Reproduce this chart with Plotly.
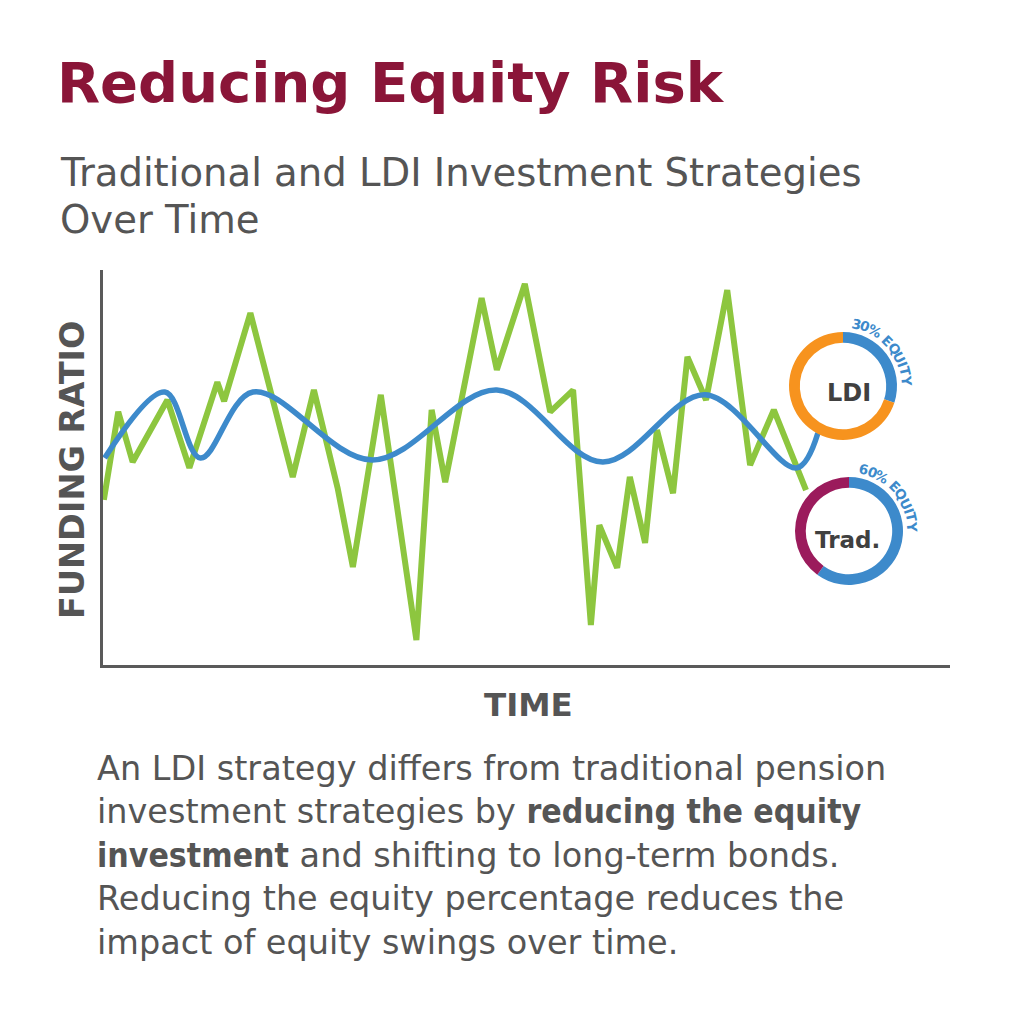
import math
import plotly.graph_objects as go

W, H = 1024, 1015

# ---------------- data ----------------
time_trad = [0.1, 1.8, 3.5, 7.6, 10.2, 13.5, 14.3, 17.4, 22.4, 24.9, 27.7, 29.5, 32.8, 37.0,
             38.8, 40.4, 44.7, 46.5, 49.8, 52.8, 55.5, 57.6, 58.6, 60.7, 62.2, 64.0, 65.4,
             67.3, 69.0, 71.2, 73.7, 76.4, 79.2, 83.0]
funding_trad = [41.8, 64.1, 51.4, 67.1, 49.9, 71.6, 66.8, 89.1, 47.6, 69.6, 44.8, 24.8, 68.4, 6.3,
                64.6, 46.3, 92.9, 74.7, 96.5, 64.1, 69.6, 10.1, 35.4, 24.6, 47.6, 30.9, 59.5,
                43.5, 78.0, 67.1, 94.9, 50.6, 64.6, 44.3]

time_ldi = [0.2, 7.3, 11.5, 17.7, 31.8, 46.5, 59.0, 71.1, 81.9, 84.4]
funding_ldi = [52.4, 69.1, 52.4, 69.1, 51.9, 69.6, 51.4, 68.4, 49.9, 58.7]

ldi_mix_labels = ["Equity", "Bonds"]
ldi_mix_values = [30, 70]
trad_mix_labels = ["Equity", "Other"]
trad_mix_values = [60, 40]

GREEN = "#8DC63F"
BLUE = "#3D8ACB"
ORANGE = "#F7931E"
PURPLE = "#9B1B5C"
TITLE = "#8A1538"
GRAY = "#555555"
FONT = "DejaVu Sans"

fig = go.Figure()

fig.add_trace(go.Scatter(x=time_trad, y=funding_trad, mode="lines",
                         line=dict(color=GREEN, width=6), hoverinfo="skip", showlegend=False))
fig.add_trace(go.Scatter(x=time_ldi, y=funding_ldi, mode="lines",
                         line=dict(color=BLUE, width=5.5, shape="spline", smoothing=1.0),
                         hoverinfo="skip", showlegend=False))


def px(x):
    return x / W


def py(y):
    return 1 - y / H


def donut(values, labels, colors, cx, cy, r):
    fig.add_trace(go.Pie(values=values, labels=labels, hole=0.80, sort=False,
                         direction="clockwise", rotation=0,
                         marker=dict(colors=colors, line=dict(width=0)),
                         textinfo="none", hoverinfo="skip", showlegend=False,
                         domain=dict(x=[px(cx - r), px(cx + r)], y=[py(cy + r), py(cy - r)])))


LDI_C = (843, 386)
TRAD_C = (849, 531)
R = 54
donut(ldi_mix_values, ldi_mix_labels, [BLUE, ORANGE], LDI_C[0], LDI_C[1], R)
donut(trad_mix_values, trad_mix_labels, [BLUE, PURPLE], TRAD_C[0], TRAD_C[1], R)

annotations = []


def text(x, y, s, size, color=GRAY, bold=False, xanchor="left", angle=0, family=FONT):
    annotations.append(dict(x=px(x), y=py(y), xref="paper", yref="paper", text=s,
                            showarrow=False, xanchor=xanchor, yanchor="middle",
                            textangle=angle,
                            font=dict(family=family, size=size, color=color,
                                      weight="bold" if bold else "normal")))


text(55, 83, "Reducing Equity Risk", 56, TITLE, bold=True)
text(58, 172, "Traditional and LDI Investment Strategies", 38.6, GRAY)
text(58, 220, "Over Time", 38.6, GRAY)

text(72, 470, "FUNDING RATIO", 33.5, GRAY, bold=True, xanchor="center", angle=-90)
text(528, 705, "TIME", 32.5, GRAY, bold=True, xanchor="center")


def b(s):
    return ("<span style=\"font-family:'DejaVu Sans Condensed','DejaVu Sans';"
            "font-weight:bold\">" + s + "</span>")


para = [
    "An LDI strategy differs from traditional pension",
    "investment strategies by " + b("reducing the equity"),
    b("investment") + " and shifting to long-term bonds.",
    "Reducing the equity percentage reduces the",
    "impact of equity swings over time.",
]
for i, line in enumerate(para):
    text(95, 768 + i * 43.5, line, 33.5, GRAY)

text(849, LDI_C[1] + 7, "LDI", 24, "#404040", bold=True, xanchor="center")
text(847, TRAD_C[1] + 9, "Trad.", 23, "#404040", bold=True, xanchor="center")

# curved labels along ring (DejaVu Sans Bold advance widths, em)
char_em = {"0": .696, "3": .696, "6": .696, "%": 1.002, " ": .348, "E": .683, "Q": .850,
           "U": .812, "I": .372, "T": .682, "Y": .724}


def arc_label(label, cx, cy, r, a0, a1, size=13.5):
    widths = [char_em[c] for c in label]
    centers = []
    pos = 0.0
    for w in widths:
        centers.append(pos + w / 2)
        pos += w
    span = centers[-1] - centers[0]
    for c, m in zip(label, centers):
        if c == " ":
            continue
        ang = a0 + (a1 - a0) * (m - centers[0]) / span
        a = math.radians(ang)
        x = cx + r * math.sin(a)
        y = cy - r * math.cos(a)
        annotations.append(dict(x=px(x), y=py(y), xref="paper", yref="paper", text=c,
                                showarrow=False, xanchor="center", yanchor="middle",
                                textangle=ang,
                                font=dict(family=FONT, size=size, color=BLUE, weight="bold")))


arc_label("30% EQUITY", LDI_C[0], LDI_C[1], 63.5, 12, 85)
arc_label("60% EQUITY", TRAD_C[0], TRAD_C[1], 63.5, 13, 86)

fig.update_layout(
    width=W, height=H,
    margin=dict(l=0, r=0, t=0, b=0),
    paper_bgcolor="white", plot_bgcolor="white",
    annotations=annotations,
    xaxis=dict(range=[0, 100], domain=[px(103), px(950)], showgrid=False, zeroline=False,
               showticklabels=False, ticks="", showline=True, linecolor="#5A5A5A", linewidth=3),
    yaxis=dict(range=[0, 100], domain=[py(665), py(270)], showgrid=False, zeroline=False,
               showticklabels=False, ticks="", showline=True, linecolor="#5A5A5A", linewidth=3),
)

fig.write_html("out.html")
